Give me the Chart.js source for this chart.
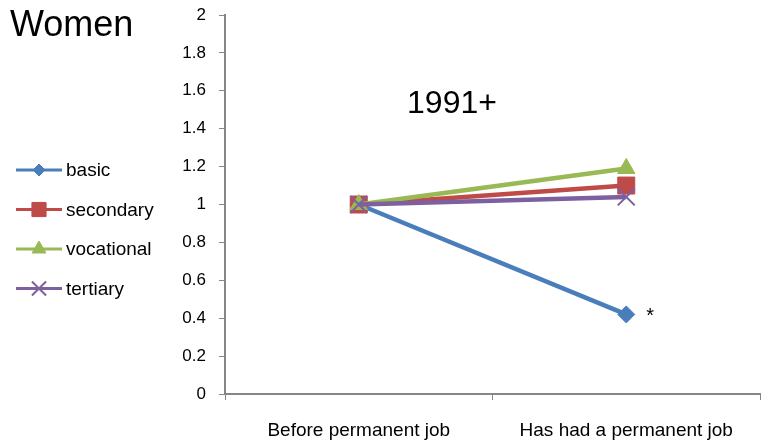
<!DOCTYPE html>
<html>
<head>
<meta charset="utf-8">
<script src="https://cdn.jsdelivr.net/npm/chart.js@4/dist/chart.umd.min.js"></script>
<style>
  html, body { margin: 0; padding: 0; background: #fff; }
  #wrap { width: 770px; height: 447px; position: relative; }
</style>
</head>
<body>
<div id="wrap"><canvas id="chart"></canvas></div>
<script>
const categories = ['Before permanent job', 'Has had a permanent job'];
const basic = [1, 0.42];
const secondary = [1, 1.10];
const vocational = [1, 1.19];
const tertiary = [1, 1.04];
const yTicks = [0, 0.2, 0.4, 0.6, 0.8, 1, 1.2, 1.4, 1.6, 1.8, 2];

const FONT = '"Liberation Sans", Arial, sans-serif';
const AXIS = '#868686';

// r = marker radius on the plot, lr = radius in the legend
const series = [
  { label: 'basic', data: basic, color: '#4A7EBB', style: 'rectRot', r: 8.5, lr: 6, order: 3 },
  { label: 'secondary', data: secondary, color: '#BE4B48', style: 'rect', r: 12, lr: 10, order: 2 },
  { label: 'vocational', data: vocational, color: '#98B954', style: 'triangle', r: 10, lr: 8, order: 1 },
  { label: 'tertiary', data: tertiary, color: '#7D60A0', style: 'crossRot', r: 12, lr: 10, order: 0 }
];

// left legend, title texts and the asterisk
const extras = {
  id: 'extras',
  afterDraw(chart) {
    const ctx = chart.ctx;
    ctx.save();
    ctx.fillStyle = '#000';
    ctx.textBaseline = 'middle';
    ctx.font = '36px ' + FONT;
    ctx.fillText('Women', 10, 26);
    ctx.font = '32px ' + FONT;
    ctx.textAlign = 'center';
    ctx.fillText('1991+', 452, 104);
    ctx.font = '20px ' + FONT;
    const pt = chart.getDatasetMeta(0).data[1];
    ctx.fillText('*', pt.x + 24, pt.y + 2);

    ctx.textAlign = 'left';
    ctx.font = '19px ' + FONT;
    series.forEach((s, i) => {
      const y = 170 + i * 39.5;
      ctx.strokeStyle = s.color;
      ctx.lineWidth = 3;
      ctx.beginPath();
      ctx.moveTo(16, y);
      ctx.lineTo(62, y);
      ctx.stroke();
      ctx.fillStyle = s.color;
      ctx.strokeStyle = s.color;
      ctx.lineWidth = s.style === 'crossRot' ? 2 : 1;
      Chart.helpers.drawPoint(ctx, {
        pointStyle: s.style, radius: s.lr, borderWidth: ctx.lineWidth
      }, 39, y);
      ctx.fillStyle = '#000';
      ctx.fillText(s.label, 66, y + 1);
    });
    ctx.restore();
  }
};

new Chart(document.getElementById('chart'), {
  type: 'line',
  data: {
    labels: categories,
    datasets: series.map(s => ({
      label: s.label,
      data: s.data,
      borderColor: s.color,
      backgroundColor: s.color,
      borderWidth: 4.5,
      pointStyle: s.style,
      pointRadius: s.r,
      pointBorderWidth: s.style === 'crossRot' ? 2 : 1,
      order: s.order,
      tension: 0
    }))
  },
  options: {
    responsive: true,
    maintainAspectRatio: false,
    animation: false,
    layout: { autoPadding: false, padding: { left: 165, right: 10, top: 15, bottom: 0 } },
    plugins: {
      legend: { display: false },
      tooltip: { enabled: false }
    },
    scales: {
      x: {
        offset: true,
        grid: { offset: true, drawOnChartArea: false, color: AXIS, tickLength: 6 },
        border: { color: AXIS, width: 2 },
        ticks: { color: '#000', font: { family: FONT, size: 19 }, padding: 19, maxRotation: 0 },
        afterFit: scale => {
          scale.height = 53;
          scale.paddingLeft = 0;
          scale.paddingRight = 0;
        }
      },
      y: {
        min: 0,
        max: 2,
        afterBuildTicks: scale => { scale.ticks = yTicks.map(v => ({ value: v })); },
        grid: { drawOnChartArea: false, color: AXIS, tickLength: 6 },
        border: { color: AXIS, width: 2 },
        ticks: {
          color: '#000',
          font: { family: FONT, size: 17 },
          padding: 13,
          callback: v => String(v)
        },
        afterFit: scale => {
          scale.width = 60;
          scale.paddingTop = 0;
          scale.paddingBottom = 0;
        }
      }
    }
  },
  plugins: [extras]
});
</script>
</body>
</html>
